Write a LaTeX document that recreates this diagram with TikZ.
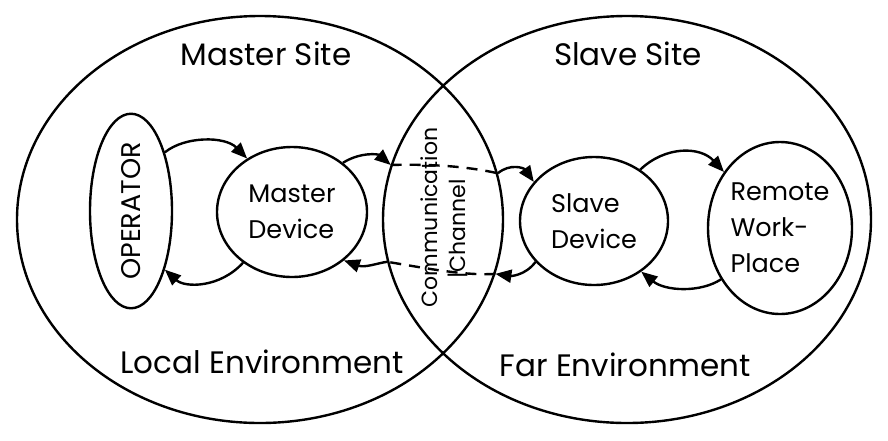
\documentclass[tikz,border=0pt]{standalone}
\usepackage{fontspec}
\setmainfont{Poppins}
\usetikzlibrary{shapes.geometric,arrows.meta}
\begin{document}
\begin{tikzpicture}[x=1pt,y=-1pt,
  line width=2.4pt,
  oval/.style={draw,ellipse,inner sep=0pt,align=left,font=\fontsize{25.5}{36}\selectfont},
  big/.style={draw,ellipse,inner sep=0pt},
  lbl/.style={inner sep=0pt,font=\fontsize{31}{36}\selectfont},
  arr/.style={-{Triangle[length=16pt,width=13pt]}},
  dsh/.style={dash pattern=on 11pt off 8pt}]
\useasboundingbox (0,0) rectangle (888,440);
% big sites
\node[big,minimum width=486pt,minimum height=407pt] (L) at (260,219.5) {};
\node[big,minimum width=488pt,minimum height=407pt] (R) at (627,219.5) {};
% labels
\node[lbl] (ms) at (266,54) {Master Site};
\node[lbl] (ss) at (628,54) {Slave Site};
\node[lbl] (le) at (262,362) {Local Environment};
\node[lbl] (fe) at (625,365) {Far Environment};
% inner nodes
\node[oval,minimum width=82pt,minimum height=166pt] (op) at (131,211)
  {\rotatebox{90}{\fontsize{27}{30}\selectfont OPERATOR}};
\node[oval,minimum width=150pt,minimum height=130pt] (md) at (292,212)
  {Master\\Device};
\node[oval,minimum width=148pt,minimum height=128pt] (sd) at (594,221)
  {Slave\\Device};
\node[oval,minimum width=144pt,minimum height=172pt] (rw) at (780,228)
  {Remote\\Work-\\Place};
\node[inner sep=0pt,rotate=90,font=\fontsize{22}{29}\selectfont] (cc) at (429,217.5) {Communication};
\node[inner sep=0pt,rotate=90,font=\fontsize{22}{29}\selectfont] (ch) at (458,229) {|Channel};
% arrows left
\draw[arr] (op.60) .. controls (185,136) and (225,136) .. (md.130);
\draw[arr] (md.226) .. controls (220,288) and (185,288) .. (op.300);
% master -> channel -> slave
\draw[arr] (md.44) .. controls (360,152) and (378,154) .. (R.167);
\draw[dsh] (R.167) .. controls (430,164) and (465,166) .. (L.11.8);
\draw[arr] (L.11.8) .. controls (510,163) and (524,168) .. (sd.147);
% slave -> channel -> master
\draw[arr] (sd.215) .. controls (525,276) and (510,276) .. (L.-13);
\draw[dsh] (L.-13) .. controls (465,276) and (425,268) .. (R.190.3);
\draw[arr] (R.190.3) .. controls (378,263) and (365,268) .. (md.317);
% slave <-> remote
\draw[arr] (sd.48) .. controls (665,146) and (700,146) .. (rw.135);
\draw[arr] (rw.221) .. controls (700,293) and (665,291) .. (sd.313);
\end{tikzpicture}
\end{document}
